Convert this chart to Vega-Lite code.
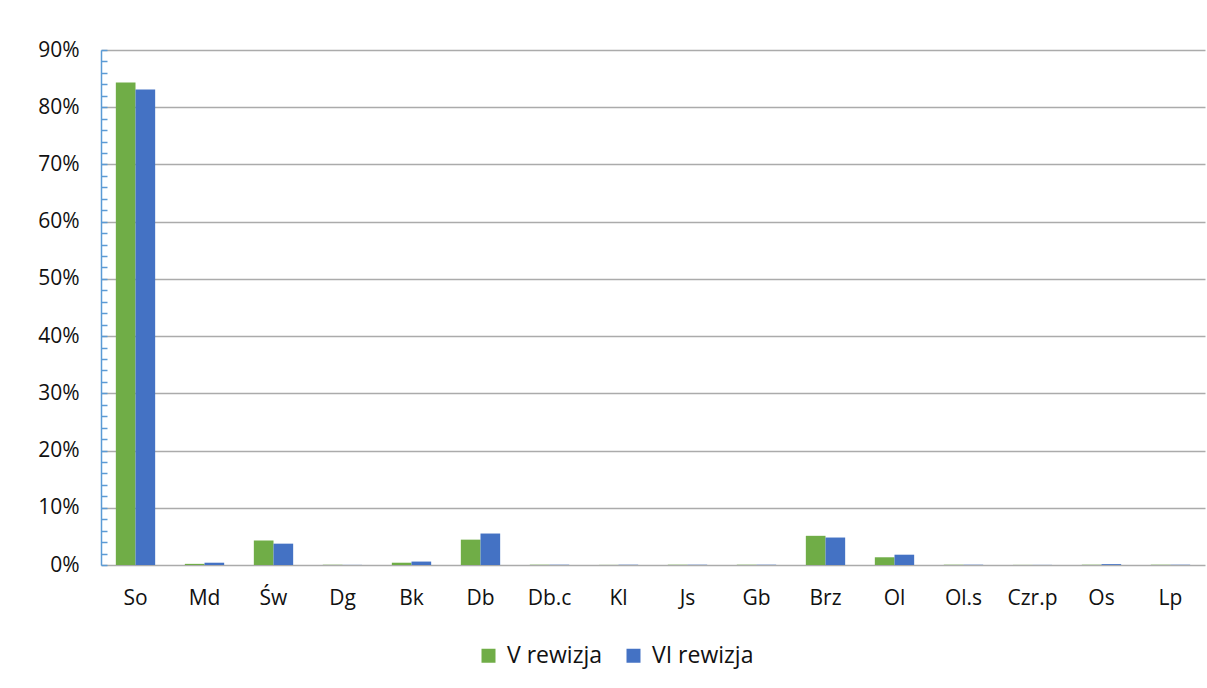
{
  "$schema": "https://vega.github.io/schema/vega-lite/v6.json",
  "autosize": "none",
  "width": 1104,
  "height": 515,
  "padding": {"left": 101, "top": 50, "right": 2, "bottom": 123},
  "background": "white",
  "data": {
    "values": [
      {"gat": "So", "rewizja": "V rewizja", "udzial": 0.843},
      {"gat": "So", "rewizja": "VI rewizja", "udzial": 0.831},
      {"gat": "Md", "rewizja": "V rewizja", "udzial": 0.002},
      {"gat": "Md", "rewizja": "VI rewizja", "udzial": 0.004},
      {"gat": "Św", "rewizja": "V rewizja", "udzial": 0.0426},
      {"gat": "Św", "rewizja": "VI rewizja", "udzial": 0.0373},
      {"gat": "Dg", "rewizja": "V rewizja", "udzial": 0.0005},
      {"gat": "Dg", "rewizja": "VI rewizja", "udzial": 0.0002},
      {"gat": "Bk", "rewizja": "V rewizja", "udzial": 0.004},
      {"gat": "Bk", "rewizja": "VI rewizja", "udzial": 0.006},
      {"gat": "Db", "rewizja": "V rewizja", "udzial": 0.0443},
      {"gat": "Db", "rewizja": "VI rewizja", "udzial": 0.055},
      {"gat": "Db.c", "rewizja": "V rewizja", "udzial": 0.0005},
      {"gat": "Db.c", "rewizja": "VI rewizja", "udzial": 0.0005},
      {"gat": "Kl", "rewizja": "V rewizja", "udzial": 0.0002},
      {"gat": "Kl", "rewizja": "VI rewizja", "udzial": 0.0005},
      {"gat": "Js", "rewizja": "V rewizja", "udzial": 0.0005},
      {"gat": "Js", "rewizja": "VI rewizja", "udzial": 0.0005},
      {"gat": "Gb", "rewizja": "V rewizja", "udzial": 0.0005},
      {"gat": "Gb", "rewizja": "VI rewizja", "udzial": 0.0005},
      {"gat": "Brz", "rewizja": "V rewizja", "udzial": 0.051},
      {"gat": "Brz", "rewizja": "VI rewizja", "udzial": 0.048},
      {"gat": "Ol", "rewizja": "V rewizja", "udzial": 0.0135},
      {"gat": "Ol", "rewizja": "VI rewizja", "udzial": 0.018},
      {"gat": "Ol.s", "rewizja": "V rewizja", "udzial": 0.0005},
      {"gat": "Ol.s", "rewizja": "VI rewizja", "udzial": 0.0005},
      {"gat": "Czr.p", "rewizja": "V rewizja", "udzial": 0.0002},
      {"gat": "Czr.p", "rewizja": "VI rewizja", "udzial": 0.0002},
      {"gat": "Os", "rewizja": "V rewizja", "udzial": 0.0005},
      {"gat": "Os", "rewizja": "VI rewizja", "udzial": 0.0015},
      {"gat": "Lp", "rewizja": "V rewizja", "udzial": 0.0005},
      {"gat": "Lp", "rewizja": "VI rewizja", "udzial": 0.0005}
    ]
  },
  "mark": {"type": "bar"},
  "encoding": {
    "x": {
      "field": "gat",
      "type": "nominal",
      "sort": ["So", "Md", "Św", "Dg", "Bk", "Db", "Db.c", "Kl", "Js", "Gb", "Brz", "Ol", "Ol.s", "Czr.p", "Os", "Lp"],
      "scale": {"paddingInner": 0.43, "paddingOuter": 0.215},
      "axis": {
        "title": null,
        "labelAngle": 0,
        "ticks": false,
        "grid": false,
        "domainColor": "#ababab",
        "domainWidth": 1.5,
        "labelFontSize": 21,
        "labelColor": "#111111",
        "labelPadding": 22
      }
    },
    "xOffset": {"field": "rewizja", "type": "nominal", "sort": ["V rewizja", "VI rewizja"]},
    "y": {
      "field": "udzial",
      "type": "quantitative",
      "scale": {"domain": [0, 0.9], "nice": false},
      "axis": {
        "title": null,
        "values": [0, 0.02, 0.04, 0.06, 0.08, 0.1, 0.12, 0.14, 0.16, 0.18, 0.2, 0.22, 0.24, 0.26, 0.28, 0.3, 0.32, 0.34, 0.36, 0.38, 0.4, 0.42, 0.44, 0.46, 0.48, 0.5, 0.52, 0.54, 0.56, 0.58, 0.6, 0.62, 0.64, 0.66, 0.68, 0.7, 0.72, 0.74, 0.76, 0.78, 0.8, 0.82, 0.84, 0.86, 0.88, 0.9],
        "labelExpr": "abs(datum.value*10 - round(datum.value*10)) < 0.001 ? format(datum.value, '.0%') : ''",
        "labelOverlap": false,
        "labelFontSize": 21,
        "labelColor": "#111111",
        "labelPadding": 28,
        "domainColor": "#5b9bd5",
        "domainWidth": 1.5,
        "tickColor": "#5b9bd5",
        "tickWidth": 1.5,
        "tickSize": -6,
        "gridColor": "#ababab",
        "gridWidth": 1.5,
        "gridOpacity": {"condition": {"test": "abs(datum.value*10 - round(datum.value*10)) < 0.001 && datum.value > 0", "value": 1}, "value": 0}
      }
    },
    "color": {
      "field": "rewizja",
      "type": "nominal",
      "scale": {"domain": ["V rewizja", "VI rewizja"], "range": ["#70ad47", "#4472c4"]},
      "legend": {
        "title": null,
        "orient": "none",
        "legendX": 376,
        "legendY": 594,
        "direction": "horizontal",
        "symbolType": "square",
        "symbolSize": 196,
        "symbolStrokeWidth": 0,
        "symbolOpacity": 1,
        "labelFontSize": 23,
        "labelColor": "#111111",
        "labelOffset": 7,
        "columnPadding": 20
      }
    }
  },
  "config": {
    "font": "Open Sans",
    "view": {"stroke": null}
  }
}
